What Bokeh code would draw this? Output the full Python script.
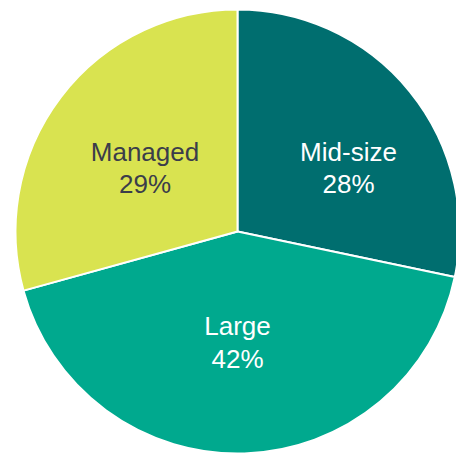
import math
from bokeh.plotting import figure
from bokeh.models import Range1d, ColumnDataSource
from bokeh.core.properties import value
from bokeh.embed import file_html
from bokeh.resources import INLINE

categories = ["Mid-size", "Large", "Managed"]
shares = [28, 42, 29]
colors = ["#006e6f", "#00a98e", "#d9e350"]
text_colors = ["#ffffff", "#ffffff", "#3b3d4a"]

# label placement (polar, relative to pie centre): angle in degrees, radius as fraction of R
label_angle_deg = [29.6, -90.0, 145.6]
label_radius_frac = [0.575, 0.5, 0.505]

W, H = 456, 455
R = 222
cx_px, cy_px = 237, 231  # pie centre within the figure, pixels

total = sum(shares)
starts, ends = [], []
a = math.pi / 2
for s in shares:
    sweep = 2 * math.pi * s / total
    starts.append(a - sweep)
    ends.append(a)
    a -= sweep

lx = [f * R * math.cos(math.radians(d)) for d, f in zip(label_angle_deg, label_radius_frac)]
ly = [f * R * math.sin(math.radians(d)) for d, f in zip(label_angle_deg, label_radius_frac)]
labels = [f"{c}\n{s}%" for c, s in zip(categories, shares)]

src = ColumnDataSource(dict(start=starts, end=ends, color=colors, lx=lx, ly=ly,
                            label=labels, tcol=text_colors))

p = figure(width=W, height=H, output_backend="svg", toolbar_location=None,
           x_range=Range1d(-cx_px, W - cx_px), y_range=Range1d(-(H - cy_px), cy_px),
           min_border=0, outline_line_color=None)
p.axis.visible = False
p.grid.visible = False
p.background_fill_color = "white"
p.border_fill_color = "white"

p.wedge(x=0, y=0, radius=R, start_angle="start", end_angle="end", fill_color="color",
        line_color="white", line_width=2, source=src)
p.text(x="lx", y="ly", text="label", text_color="tcol", text_align="center",
       text_baseline="middle", text_font=value("Liberation Sans"), text_font_size="26px",
       text_line_height=1.07, source=src)

open("out.html", "w").write(file_html(p, INLINE))
